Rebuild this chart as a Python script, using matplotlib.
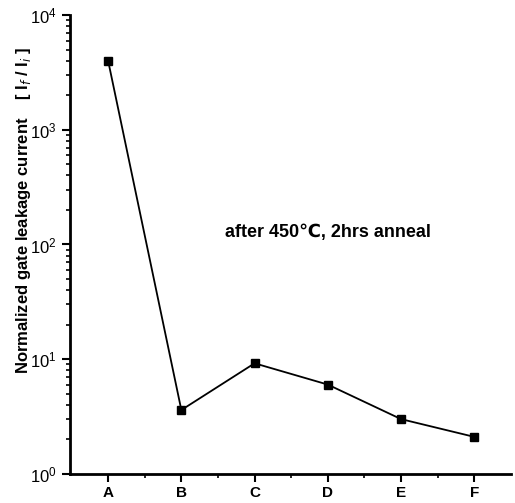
import numpy as np
import matplotlib.pyplot as plt
from matplotlib.ticker import LogLocator, FixedLocator

plt.rcParams['font.family'] = ['Liberation Sans', 'DejaVu Sans']
plt.rcParams['mathtext.fontset'] = 'custom'
plt.rcParams['mathtext.rm'] = 'Liberation Sans'

samples = ["A", "B", "C", "D", "E", "F"]
leakage = [4000, 3.6, 9.2, 6.0, 3.0, 2.1]

fig = plt.figure(figsize=(5.15, 5.03), dpi=100)
ax = fig.add_axes([0.136, 0.058, 0.856, 0.912])

x = np.arange(len(samples))
ax.plot(x, leakage, color="black", linewidth=1.3, marker="s", markersize=6,
        markerfacecolor="black")

ax.set_yscale("log")
ax.set_ylim(1, 1e4)
ax.set_xlim(-0.52, 5.5)
ax.set_xticks(x)
ax.set_xticklabels(samples, fontsize=11, fontweight="bold")
ax.xaxis.set_minor_locator(FixedLocator(x[:-1] + 0.5))
ax.yaxis.set_minor_locator(LogLocator(base=10, subs=np.arange(2, 10)))

for s in ["top", "right"]:
    ax.spines[s].set_visible(False)
for s in ["left", "bottom"]:
    ax.spines[s].set_linewidth(2)

ax.tick_params(axis="both", which="major", direction="out", length=6, width=1.5)
ax.tick_params(axis="both", which="minor", direction="out", length=3, width=1.2)
ax.tick_params(axis="y", labelsize=12)
ax.tick_params(axis="x", pad=3)

ax.set_ylabel("Normalized gate leakage current    [ I$_f$ / I$_i$ ]",
              fontsize=12, fontweight="bold")
ax.yaxis.set_label_coords(-0.085, 0.575)

ax.text(1.6, 128, "after 450\u2103, 2hrs anneal", fontsize=13, fontweight="bold",
        ha="left", va="center",
        family=["Liberation Sans", "DejaVu Sans", "Noto Sans CJK SC"])

fig.savefig("out.png", dpi=100)
